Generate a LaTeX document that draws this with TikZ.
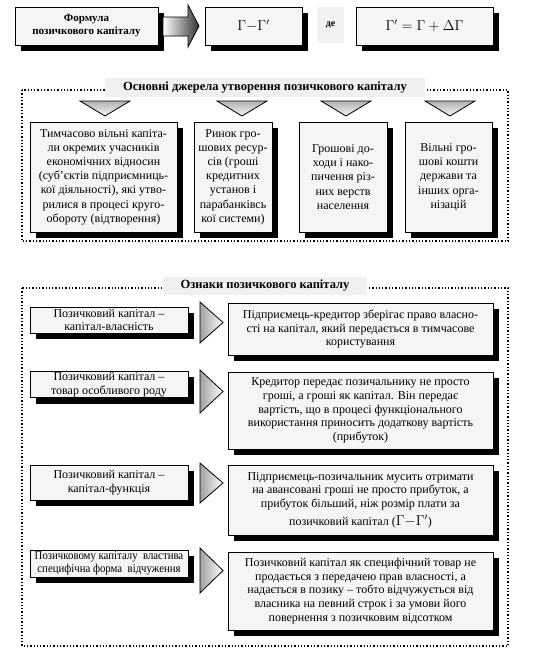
\documentclass[tikz,border=0pt]{standalone}
\usepackage{fontspec}
\setmainfont{Liberation Serif}
\usepackage{graphicx}
\usetikzlibrary{shadows, positioning}

\begin{document}
\begin{tikzpicture}[x=1pt, y=-1pt,
  box/.style={draw, line width=0.9pt, fill=gray!8, align=center, inner sep=1pt,
    drop shadow={shadow xshift=6pt, shadow yshift=-6pt, fill=black, opacity=1}},
  band/.style={fill=gray!12, font=\bfseries\fontsize{12.5}{14}\selectfont, inner sep=0pt},
  frame/.style={dotted, line width=1.3pt},
  src/.style={box, font=\fontsize{12}{14.2}\selectfont, minimum height=110pt},
  sign/.style={box, font=\fontsize{12}{13.5}\selectfont, minimum width=158pt},
  expl/.style={box, font=\fontsize{12}{13.8}\selectfont, minimum width=265pt},
  downtri/.style={draw, line width=0.8pt, top color=gray!60, bottom color=gray!8},
  righttri/.style={draw, line width=0.8pt, left color=gray!75, right color=white}]
  \useasboundingbox (0,0) rectangle (538,654);

  \node[box, minimum width=143pt, minimum height=38pt, font=\bfseries\fontsize{11}{13}\selectfont]
    (formula) at (86.5,26) {Формула\\позичкового капіталу};
  \draw[line width=0.8pt, left color=white, right color=black!80]
    (163,17) -- (188,17) -- (188,5) -- (199,26) -- (188,47) -- (188,36) -- (163,36) -- cycle;
  \node[box, minimum width=97pt, minimum height=38pt, font=\Large] (diff) at (253.5,26)
    {$\Gamma{-}\Gamma'$};
  \node[fill=gray!10, minimum width=27pt, minimum height=36pt, inner sep=0pt,
    font=\bfseries\fontsize{10}{12}\selectfont] (de) at (330.5,25) {де};
  \node[box, minimum width=137pt, minimum height=38pt, font=\Large] (incr) at (424.5,26)
    {$\Gamma' = \Gamma + \Delta\Gamma$};

  \draw[frame] (22,90) rectangle (508,241);
  \node[band, minimum width=320pt, minimum height=19pt] (srctitle) at (265,87.5)
    {Основні джерела утворення позичкового капіталу};
  \foreach \x in {105,242,346,450}
    \draw[downtri] (\x-25,101) -- (\x+25,101) -- (\x,116) -- cycle;
  \node[src, minimum width=147pt] (src1) at (103.5,177)
    {Тимчасово вільні капіта-\\ли окремих учасників\\економічних відносин\\(суб’єктів підприємниць-\\кої діяльності), які утво-\\рилися в процесі круго-\\обороту (відтворення)};
  \node[src, minimum width=78pt] (src2) at (233,177)
    {Ринок гро-\\шових ресур-\\сів (гроші\\кредитних\\установ і\\парабанківсь\\кої системи)};
  \node[src, minimum width=88pt] (src3) at (343,177)
    {Грошові до-\\ходи і нако-\\пичення різ-\\них верств\\населення};
  \node[src, minimum width=87pt] (src4) at (448.5,177)
    {Вільні гро-\\шові кошти\\держави та\\інших орга-\\нізацій};

  \draw[frame] (22,288) rectangle (508,646);
  \node[band, minimum width=204pt, minimum height=18pt] (signtitle) at (265,286)
    {Ознаки позичкового капіталу};
  \foreach \a/\b in {302/343, 370/413, 463/503, 548/593}
    \draw[righttri] (200,\a) -- (223,{(\a+\b)/2}) -- (200,\b) -- cycle;

  \node[sign, minimum height=26pt] (sign1) at (109,320)
    {Позичковий капітал –\\капітал-власність};
  \node[expl, minimum height=52pt] (expl1) at (360.5,329)
    {Підприємець-кредитор зберігає право власно-\\сті на капітал, який передається в тимчасове\\користування};

  \node[sign, minimum height=25pt] (sign2) at (109,384.5)
    {Позичковий капітал –\\товар особливого роду};
  \node[expl, minimum height=77pt] (expl2) at (360.5,410.5)
    {Кредитор передає позичальнику не просто\\гроші, а гроші як капітал. Він передає\\вартість, що в процесі функціонального\\використання приносить додаткову вартість\\(прибуток)};

  \node[sign, minimum height=35pt] (sign3) at (109,482.5)
    {Позичковий капітал –\\капітал-функція};
  \node[expl, minimum height=70pt] (expl3) at (360.5,500)
    {Підприємець-позичальник мусить отримати\\на авансовані гроші не просто прибуток, а\\прибуток більший, ніж розмір плати за\\[4pt]позичковий капітал ({\Large$\Gamma{-}\Gamma'$})};

  \node[sign, minimum height=27pt] (sign4) at (109,563.5)
    {\scalebox{0.9}[1]{Позичковому капіталу \ властива}\\\scalebox{0.9}[1]{специфічна форма \ відчуження}};
  \node[expl, minimum height=78pt] (expl4) at (360.5,591)
    {Позичковий капітал як специфічний товар не\\продається з передачею прав власності, а\\надається в позику – тобто відчужується від\\власника на певний строк і за умови його\\повернення з позичковим відсотком};
\end{tikzpicture}
\end{document}
